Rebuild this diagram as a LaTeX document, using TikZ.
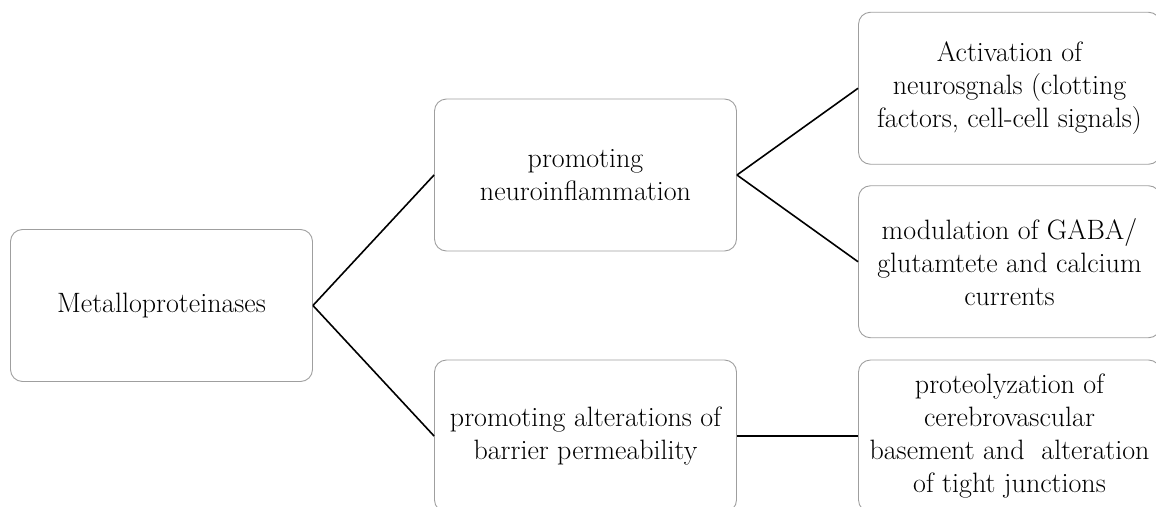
\documentclass[tikz,border=0pt]{standalone}
\usepackage{tikz}
\usepackage{xcolor}

\begin{document}
\begin{tikzpicture}[
  x=1pt, y=1pt,
  grow'=right,
  level distance=424pt,
  every node/.style={draw=gray!75, rounded corners=12pt, line width=0.9pt, minimum width=302pt, minimum height=152pt, inner sep=2pt, align=center, font=\fontsize{28}{33}\selectfont},
  level 1/.style={sibling distance=261pt},
  level 2/.style={sibling distance=173.5pt},
  edge from parent/.style={draw, black, line width=1.6pt},
  edge from parent path={(\tikzparentnode.east) -- (\tikzchildnode.west)}
]

\useasboundingbox (0,0) rectangle (1156,-506);
\clip (0,0) rectangle (1156,-506);

\node (metallo) at (161.5,-305.5) {Metalloproteinases}
  child { node (neuro) {promoting\\neuroinflammation}
    child { node (activation) {Activation of\\neurosgnals (clotting\\factors, cell-cell signals)} }
    child { node (gaba) {modulation of GABA/\\glutamtete and calcium\\currents} }
  }
  child { node (barrier) {promoting alterations of\\barrier permeability}
    child { node (tight) {proteolyzation of\\cerebrovascular\\basement and\ \ alteration\\of tight junctions} }
  };

\end{tikzpicture}
\end{document}
